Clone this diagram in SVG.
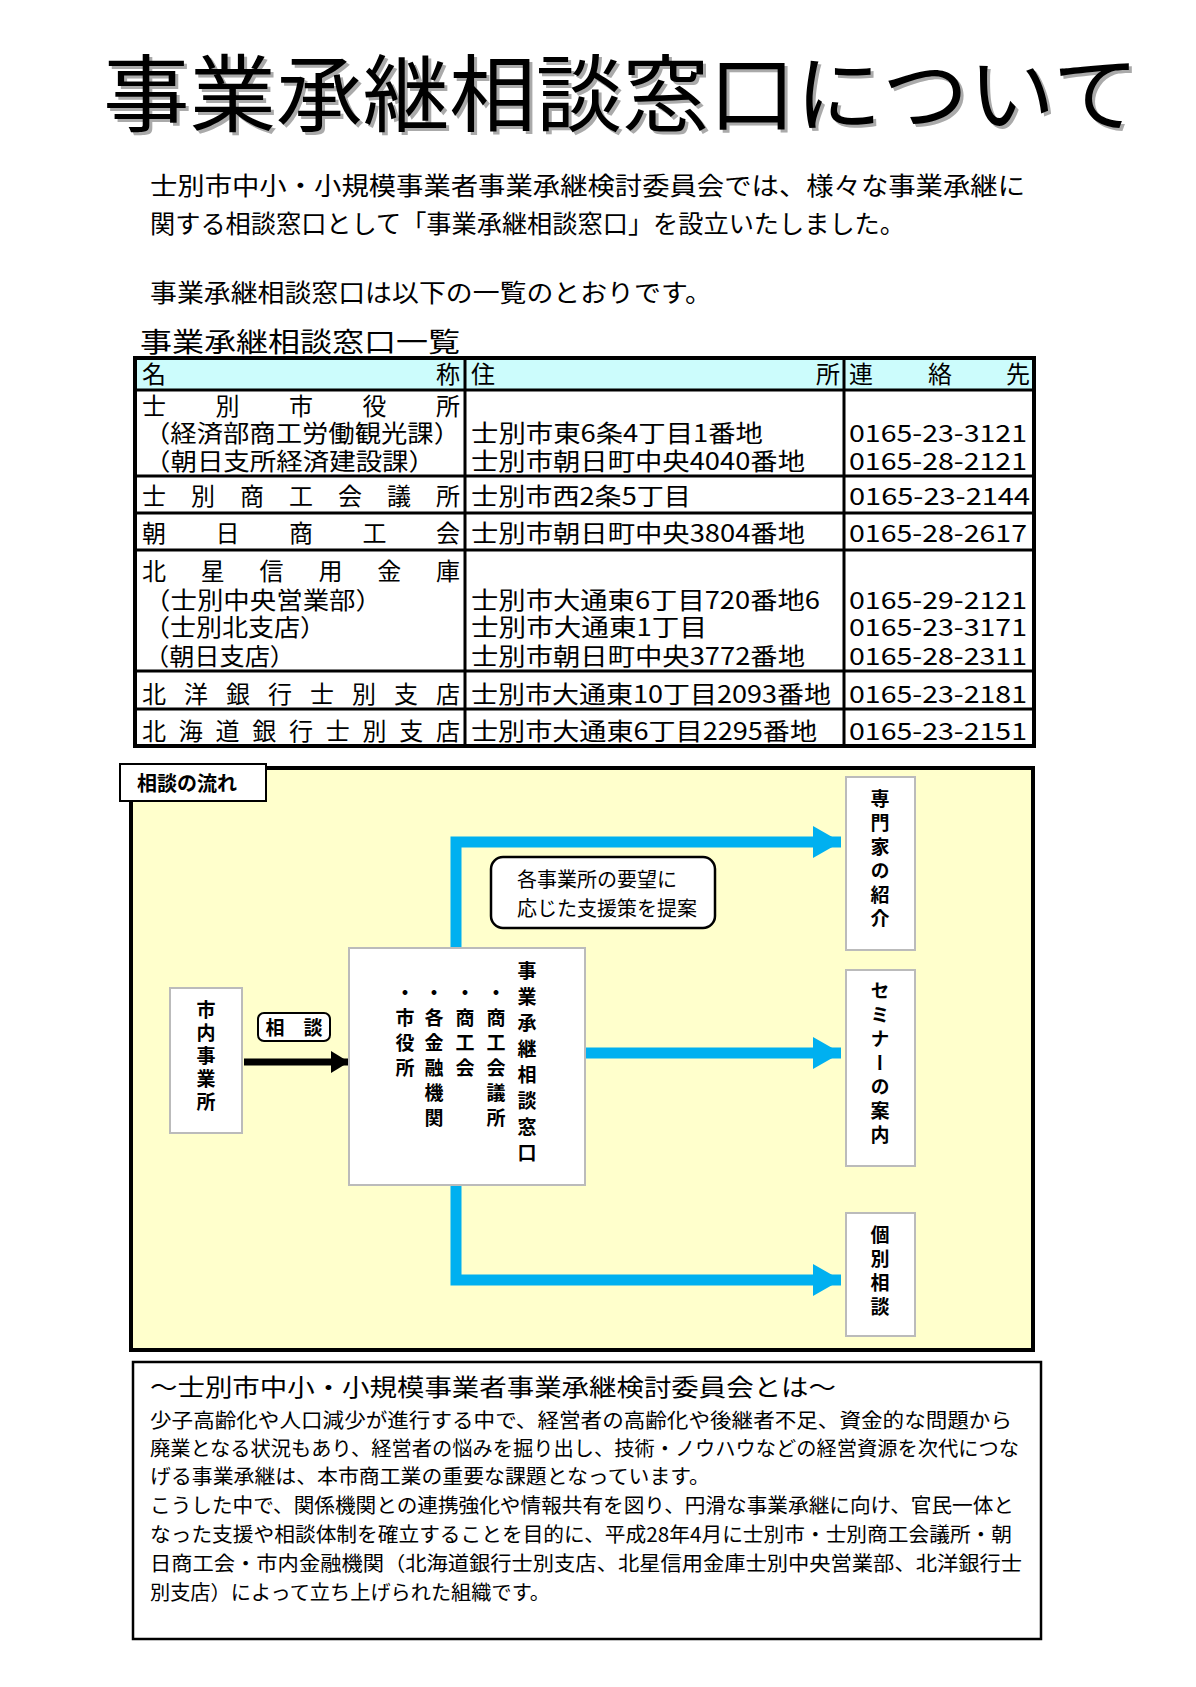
<svg xmlns="http://www.w3.org/2000/svg" width="1196" height="1687" viewBox="0 0 1196 1687">
<style>
text{font-family:"Noto Sans CJK JP","Noto Sans",sans-serif;fill:#000}
.t{font-size:24px}
.b{font-weight:bold}
.wbox{fill:#fff;stroke:#bbb;stroke-width:2}
.v{writing-mode:vertical-rl;font-weight:bold;font-size:19px}
.blue{fill:none;stroke:#00b0f0;stroke-width:11}
</style>
<defs>
<marker id="ba" markerUnits="userSpaceOnUse" markerWidth="30" markerHeight="32" refX="28" refY="16" orient="auto"><path d="M0,0 L28,16 L0,32 Z" fill="#00b0f0"/></marker>
<marker id="ka" markerUnits="userSpaceOnUse" markerWidth="20" markerHeight="22" refX="18" refY="11" orient="auto"><path d="M0,0 L18,11 L0,22 Z" fill="#000"/></marker>
</defs>
<rect width="1196" height="1687" fill="#fff"/>
<g id="title">
<text x="106" y="128" font-size="84" textLength="1036" lengthAdjust="spacingAndGlyphs" style="fill:#aaa">事業承継相談窓口について</text>
<text x="103" y="125" font-size="84" textLength="1036" lengthAdjust="spacingAndGlyphs">事業承継相談窓口について</text>
</g>
<g id="intro" font-size="25">
<text x="150" y="195" textLength="875" lengthAdjust="spacingAndGlyphs">士別市中小・小規模事業者事業承継検討委員会では、様々な事業承継に</text>
<text x="150" y="233" textLength="755" lengthAdjust="spacingAndGlyphs">関する相談窓口として「事業承継相談窓口」を設立いたしました。</text>
<text x="150" y="302" textLength="562" lengthAdjust="spacingAndGlyphs">事業承継相談窓口は以下の一覧のとおりです。</text>
</g>
<g id="table">
<text x="140" y="352" font-size="27" textLength="320" lengthAdjust="spacingAndGlyphs">事業承継相談窓口一覧</text>
<rect x="135" y="358" width="899" height="32" fill="#ccfcfc"/>
<rect x="135" y="358" width="899" height="388" fill="none" stroke="#000" stroke-width="4"/>
<path d="M135 390H1034M135 476H1034M135 513H1034M135 550H1034M135 671H1034M135 709H1034M465 358V746M844 358V746" stroke="#000" stroke-width="3" fill="none"/>
<g class="t">
<text x="142" y="383">名</text><text x="460" y="383" text-anchor="end">称</text>
<text x="471" y="383">住</text><text x="840" y="383" text-anchor="end">所</text>
<text x="849" y="383">連</text><text x="940" y="383" text-anchor="middle">絡</text><text x="1030" y="383" text-anchor="end">先</text>
<text x="142" y="415" textLength="318" lengthAdjust="spacing">士別市役所</text>
<text x="144" y="442" textLength="316" lengthAdjust="spacingAndGlyphs">（経済部商工労働観光課）</text>
<text x="144" y="470" textLength="291" lengthAdjust="spacingAndGlyphs">（朝日支所経済建設課）</text>
<text x="471" y="442" textLength="292" lengthAdjust="spacingAndGlyphs">士別市東6条4丁目1番地</text>
<text x="471" y="470" textLength="334" lengthAdjust="spacingAndGlyphs">士別市朝日町中央4040番地</text>
<text x="849" y="442" textLength="178" lengthAdjust="spacingAndGlyphs">0165-23-3121</text>
<text x="849" y="470" textLength="178" lengthAdjust="spacingAndGlyphs">0165-28-2121</text>
<text x="142" y="505" textLength="318" lengthAdjust="spacing">士別商工会議所</text>
<text x="471" y="505" textLength="220" lengthAdjust="spacingAndGlyphs">士別市西2条5丁目</text>
<text x="849" y="505" textLength="181" lengthAdjust="spacingAndGlyphs">0165-23-2144</text>
<text x="142" y="542" textLength="318" lengthAdjust="spacing">朝日商工会</text>
<text x="471" y="542" textLength="334" lengthAdjust="spacingAndGlyphs">士別市朝日町中央3804番地</text>
<text x="849" y="542" textLength="178" lengthAdjust="spacingAndGlyphs">0165-28-2617</text>
<text x="142" y="580" textLength="318" lengthAdjust="spacing">北星信用金庫</text>
<text x="144" y="609" textLength="238" lengthAdjust="spacingAndGlyphs">（士別中央営業部）</text>
<text x="144" y="636" textLength="182" lengthAdjust="spacingAndGlyphs">（士別北支店）</text>
<text x="144" y="665" textLength="151" lengthAdjust="spacingAndGlyphs">（朝日支店）</text>
<text x="471" y="609" textLength="349" lengthAdjust="spacingAndGlyphs">士別市大通東6丁目720番地6</text>
<text x="471" y="636" textLength="236" lengthAdjust="spacingAndGlyphs">士別市大通東1丁目</text>
<text x="471" y="665" textLength="334" lengthAdjust="spacingAndGlyphs">士別市朝日町中央3772番地</text>
<text x="849" y="609" textLength="178" lengthAdjust="spacingAndGlyphs">0165-29-2121</text>
<text x="849" y="636" textLength="178" lengthAdjust="spacingAndGlyphs">0165-23-3171</text>
<text x="849" y="665" textLength="178" lengthAdjust="spacingAndGlyphs">0165-28-2311</text>
<text x="142" y="703" textLength="318" lengthAdjust="spacing">北洋銀行士別支店</text>
<text x="471" y="703" textLength="360" lengthAdjust="spacingAndGlyphs">士別市大通東10丁目2093番地</text>
<text x="849" y="703" textLength="178" lengthAdjust="spacingAndGlyphs">0165-23-2181</text>
<text x="142" y="740" textLength="318" lengthAdjust="spacing">北海道銀行士別支店</text>
<text x="471" y="740" textLength="346" lengthAdjust="spacingAndGlyphs">士別市大通東6丁目2295番地</text>
<text x="849" y="740" textLength="178" lengthAdjust="spacingAndGlyphs">0165-23-2151</text>
</g>
</g>
<g id="flow-frame">
<rect x="131" y="768" width="902" height="582" fill="#ffffcc" stroke="#000" stroke-width="4"/>
<rect x="120" y="764" width="146" height="37" fill="#fff" stroke="#000" stroke-width="2"/>
<text x="137" y="791" font-size="20" class="b">相談の流れ</text>
</g>
<g id="connectors">
<path class="blue" d="M456 948V842H841" marker-end="url(#ba)"/>
<path class="blue" d="M585 1053H841" marker-end="url(#ba)"/>
<path class="blue" d="M456 1185V1280H841" marker-end="url(#ba)"/>
<path d="M244 1062H349" stroke="#000" stroke-width="7" marker-end="url(#ka)"/>
</g>
<g id="node-shinai">
<rect class="wbox" x="170" y="988" width="72" height="145"/>
<text class="v" x="206" y="1000" style="letter-spacing:4px">市内事業所</text>
</g>
<g id="node-soudan">
<rect x="258" y="1013" width="72" height="28" rx="6" fill="#fff" stroke="#000" stroke-width="2"/>
<text x="294" y="1035" font-size="19" text-anchor="middle" class="b">相　談</text>
</g>
<g id="node-center">
<rect class="wbox" x="349" y="948" width="236" height="237"/>
<text class="v" x="527" y="961" style="letter-spacing:7px">事業承継相談窓口</text>
<text class="v" x="496" y="983" style="letter-spacing:6px">・商工会議所</text>
<text class="v" x="465" y="983" style="letter-spacing:6px">・商工会</text>
<text class="v" x="434" y="983" style="letter-spacing:6px">・各金融機関</text>
<text class="v" x="405" y="983" style="letter-spacing:6px">・市役所</text>
</g>
<g id="node-teian">
<rect x="491" y="857" width="224" height="71" rx="12" fill="#fff" stroke="#000" stroke-width="2.5"/>
<text x="517" y="887" font-size="20">各事業所の要望に</text>
<text x="517" y="916" font-size="20">応じた支援策を提案</text>
</g>
<g id="node-senmon">
<rect class="wbox" x="846" y="777" width="69" height="173"/>
<text class="v" x="880" y="789" style="letter-spacing:5px">専門家の紹介</text>
</g>
<g id="node-seminar">
<rect class="wbox" x="846" y="970" width="69" height="196"/>
<text class="v" x="880" y="981" style="letter-spacing:5px">セミナーの案内</text>
</g>
<g id="node-kobetsu">
<rect class="wbox" x="846" y="1213" width="69" height="123"/>
<text class="v" x="880" y="1225" style="letter-spacing:5px">個別相談</text>
</g>
<g id="about">
<rect x="133" y="1362" width="908" height="277" fill="#fff" stroke="#000" stroke-width="2.5"/>
<text x="150" y="1396" font-size="24" textLength="686" lengthAdjust="spacingAndGlyphs">～士別市中小・小規模事業者事業承継検討委員会とは～</text>
<g font-size="20">
<text x="150" y="1428" textLength="862" lengthAdjust="spacingAndGlyphs">少子高齢化や人口減少が進行する中で、経営者の高齢化や後継者不足、資金的な問題から</text>
<text x="150" y="1456" textLength="869" lengthAdjust="spacingAndGlyphs">廃業となる状況もあり、経営者の悩みを掘り出し、技術・ノウハウなどの経営資源を次代につな</text>
<text x="150" y="1484" textLength="560" lengthAdjust="spacingAndGlyphs">げる事業承継は、本市商工業の重要な課題となっています。</text>
<text x="150" y="1513" textLength="864" lengthAdjust="spacingAndGlyphs">こうした中で、関係機関との連携強化や情報共有を図り、円滑な事業承継に向け、官民一体と</text>
<text x="150" y="1542" textLength="862" lengthAdjust="spacingAndGlyphs">なった支援や相談体制を確立することを目的に、平成28年4月に士別市・士別商工会議所・朝</text>
<text x="150" y="1571" textLength="872" lengthAdjust="spacingAndGlyphs">日商工会・市内金融機関（北海道銀行士別支店、北星信用金庫士別中央営業部、北洋銀行士</text>
<text x="150" y="1600" textLength="400" lengthAdjust="spacingAndGlyphs">別支店）によって立ち上げられた組織です。</text>
</g>
</g>
</svg>
